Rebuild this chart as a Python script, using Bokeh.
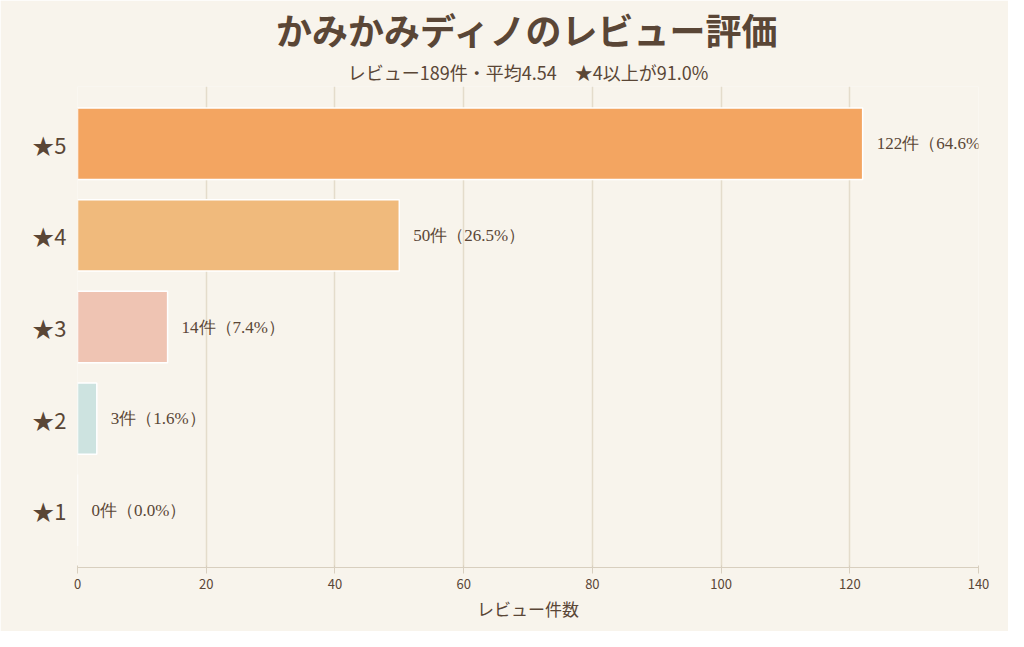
from bokeh.plotting import figure
from bokeh.models import ColumnDataSource, Title, FixedTicker, Range1d, FactorRange, LabelSet
from bokeh.embed import file_html
from bokeh.resources import INLINE

cats = ["★1", "★2", "★3", "★4", "★5"]
counts = [0, 3, 14, 50, 122]
pcts = [0.0, 1.6, 7.4, 26.5, 64.6]
colors = ["#f8f3ea", "#cde3e0", "#efc4b3", "#f0ba7c", "#f3a561"]
labels = [f"{c}件（{p:.1f}%）" for c, p in zip(counts, pcts)]

BG = "#f8f4ec"
TXT = "#5a4636"
FONT = "Noto Sans CJK JP"

src = ColumnDataSource(dict(cat=cats, n=counts, color=colors, label=labels))

p = figure(width=1008, height=631, y_range=FactorRange(*cats, range_padding=0.05),
           x_range=Range1d(0, 140),
           output_backend="svg", toolbar_location=None,
           background_fill_color=BG, border_fill_color=BG,
           min_border_left=77, min_border_right=30, min_border_bottom=64, min_border_top=10)
p.outline_line_color = None
p.title.text = "かみかみディノのレビュー評価"
p.title.align = "center"
p.title.text_font = FONT
p.title.text_font_size = "36px"
p.title.text_color = TXT
p.title.standoff = 0
sub = Title(text="レビュー189件・平均4.54　★4以上が91.0%", align="center",
            text_font=FONT, text_font_size="18px", text_color=TXT,
            text_font_style="normal", standoff=4)
p.add_layout(sub, "above")

p.hbar(y="cat", right="n", height=0.78, color="color", line_color="white",
       line_width=1.5, source=src)
p.add_layout(LabelSet(x="n", y="cat", text="label", source=src, x_offset=14,
                      text_baseline="middle", text_font=FONT, text_font_size="17px",
                      text_color=TXT))

p.xaxis.ticker = FixedTicker(ticks=[0, 20, 40, 60, 80, 100, 120, 140])
p.xaxis.axis_label = "レビュー件数"
p.xaxis.axis_label_text_font = FONT
p.xaxis.axis_label_text_font_style = "normal"
p.xaxis.axis_label_text_font_size = "17px"
p.xaxis.axis_label_text_color = TXT
p.xaxis.axis_label_standoff = 4
p.xaxis.major_label_text_font = FONT
p.xaxis.major_label_text_font_size = "13px"
p.xaxis.major_label_text_color = TXT
p.xaxis.axis_line_color = "#d8cfbf"
p.xaxis.major_tick_line_color = "#d8cfbf"
p.xaxis.minor_tick_line_color = None
p.yaxis.axis_line_color = None
p.yaxis.major_tick_line_color = None
p.yaxis.major_label_text_font = FONT
p.yaxis.major_label_text_font_size = "22px"
p.yaxis.major_label_text_color = TXT
p.ygrid.grid_line_color = None
p.xgrid.grid_line_color = "#e4dccb"
p.xgrid.grid_line_width = 1.5

open("out.html", "w").write(file_html(p, INLINE))
